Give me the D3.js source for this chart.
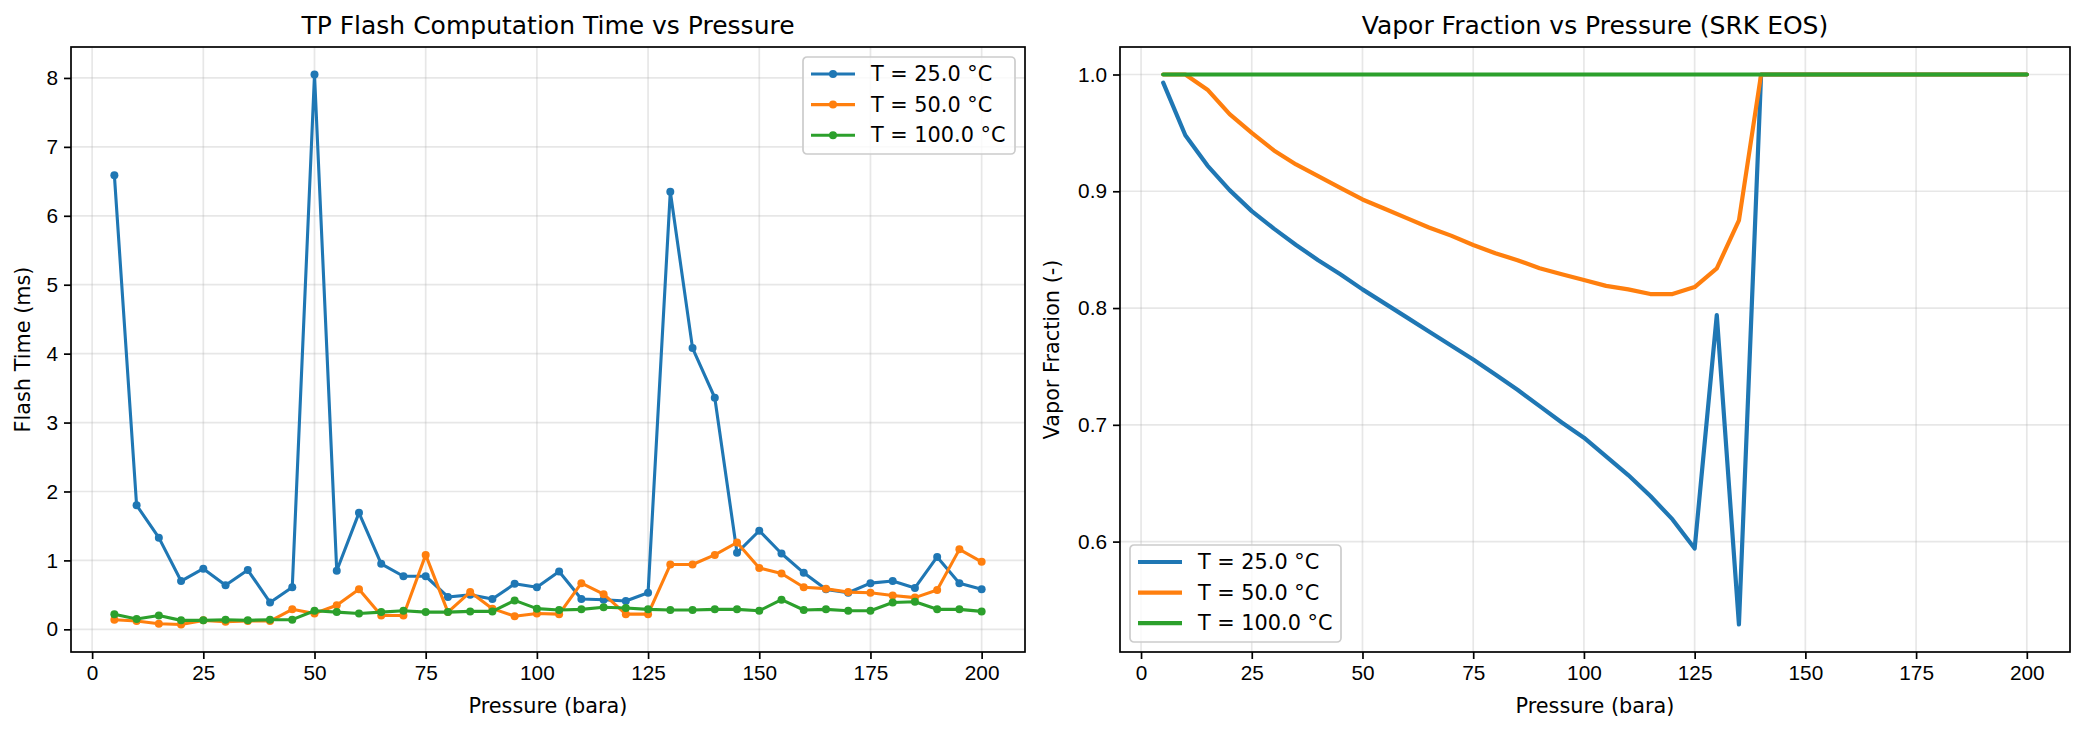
<!DOCTYPE html>
<html>
<head>
<meta charset="utf-8">
<script src="https://cdn.jsdelivr.net/npm/d3@7"></script>
<style>
  body { margin: 0; background: #fff; }
  svg { font-family: "DejaVu Sans", sans-serif; }
</style>
</head>
<body>
<svg id="chart" width="2084" height="731"></svg>
<script>
// ---------------------------------------------------------------- data
const pressure = [5, 10, 15, 20, 25, 30, 35, 40, 45, 50, 55, 60, 65, 70, 75, 80, 85, 90, 95, 100,
                  105, 110, 115, 120, 125, 130, 135, 140, 145, 150, 155, 160, 165, 170, 175, 180, 185, 190, 195, 200];
const seriesNames = ["T = 25.0 °C", "T = 50.0 °C", "T = 100.0 °C"];

// flash time (ms)
const time25 = [6.59, 1.80, 1.33, 0.70, 0.88, 0.64, 0.86, 0.39, 0.61, 8.05, 0.85, 1.69, 0.95, 0.77, 0.77, 0.47, 0.50, 0.44, 0.66, 0.61,
                0.84, 0.44, 0.43, 0.41, 0.53, 6.35, 4.08, 3.36, 1.11, 1.43, 1.10, 0.82, 0.58, 0.53, 0.67, 0.70, 0.60, 1.05, 0.67, 0.58];
const time50 = [0.14, 0.12, 0.08, 0.07, 0.13, 0.11, 0.12, 0.12, 0.29, 0.23, 0.35, 0.58, 0.20, 0.20, 1.08, 0.25, 0.54, 0.30, 0.19, 0.23,
                0.22, 0.67, 0.51, 0.22, 0.22, 0.94, 0.94, 1.08, 1.26, 0.89, 0.81, 0.61, 0.59, 0.54, 0.53, 0.49, 0.46, 0.57, 1.16, 0.98];
const time100 = [0.22, 0.15, 0.20, 0.13, 0.13, 0.14, 0.13, 0.14, 0.14, 0.27, 0.25, 0.23, 0.25, 0.27, 0.25, 0.25, 0.26, 0.26, 0.42, 0.30,
                 0.28, 0.29, 0.32, 0.31, 0.29, 0.28, 0.28, 0.29, 0.29, 0.27, 0.43, 0.28, 0.29, 0.27, 0.27, 0.39, 0.40, 0.29, 0.29, 0.26];

// vapor fraction (-)
const beta25 = [0.993, 0.948, 0.922, 0.901, 0.883, 0.868, 0.854, 0.841, 0.829, 0.816, 0.804, 0.792, 0.780, 0.768, 0.756, 0.743, 0.730, 0.716, 0.702, 0.689,
                0.673, 0.657, 0.639, 0.619, 0.594, 0.794, 0.529, 1.0, 1.0, 1.0, 1.0, 1.0, 1.0, 1.0, 1.0, 1.0, 1.0, 1.0, 1.0, 1.0];
const beta50 = [1.0, 1.0, 0.987, 0.966, 0.950, 0.935, 0.923, 0.913, 0.903, 0.893, 0.885, 0.877, 0.869, 0.862, 0.854, 0.847, 0.841, 0.834, 0.829, 0.824,
                0.819, 0.816, 0.812, 0.812, 0.818, 0.834, 0.875, 1.0, 1.0, 1.0, 1.0, 1.0, 1.0, 1.0, 1.0, 1.0, 1.0, 1.0, 1.0, 1.0];
const beta100 = [1.0, 1.0, 1.0, 1.0, 1.0, 1.0, 1.0, 1.0, 1.0, 1.0, 1.0, 1.0, 1.0, 1.0, 1.0, 1.0, 1.0, 1.0, 1.0, 1.0,
                 1.0, 1.0, 1.0, 1.0, 1.0, 1.0, 1.0, 1.0, 1.0, 1.0, 1.0, 1.0, 1.0, 1.0, 1.0, 1.0, 1.0, 1.0, 1.0, 1.0];

const xTicks = [0, 25, 50, 75, 100, 125, 150, 175, 200];
const timeTicks = [0, 1, 2, 3, 4, 5, 6, 7, 8];
const betaTicks = [0.6, 0.7, 0.8, 0.9, 1.0];

const colors = ["#1f77b4", "#ff7f0e", "#2ca02c"];

const svg = d3.select("#chart");

// matplotlib-like 5% padding
function padded(values) {
  const ext = d3.extent(values);
  const m = (ext[1] - ext[0]) * 0.05;
  return [ext[0] - m, ext[1] + m];
}

function drawPanel(opt) {
  const g = svg.append("g");
  const x = d3.scaleLinear().domain(padded(pressure)).range([opt.left, opt.right]);
  const y = d3.scaleLinear().domain(padded(d3.merge(opt.series))).range([opt.bottom, opt.top]);

  // grid
  g.append("g").selectAll("line").data(xTicks).join("line")
    .attr("x1", d => x(d)).attr("x2", d => x(d))
    .attr("y1", opt.top).attr("y2", opt.bottom)
    .attr("stroke", "#b0b0b0").attr("stroke-opacity", 0.3).attr("stroke-width", 1.7);
  g.append("g").selectAll("line").data(opt.yTicks).join("line")
    .attr("x1", opt.left).attr("x2", opt.right)
    .attr("y1", d => y(d)).attr("y2", d => y(d))
    .attr("stroke", "#b0b0b0").attr("stroke-opacity", 0.3).attr("stroke-width", 1.7);

  // lines
  const line = d3.line().x((d, i) => x(pressure[i])).y(d => y(d));
  const clip = "clip" + opt.id;
  svg.append("clipPath").attr("id", clip).append("rect")
    .attr("x", opt.left).attr("y", opt.top)
    .attr("width", opt.right - opt.left).attr("height", opt.bottom - opt.top);
  const plot = g.append("g").attr("clip-path", `url(#${clip})`);
  opt.series.forEach((s, k) => {
    plot.append("path").datum(s)
      .attr("d", line)
      .attr("fill", "none")
      .attr("stroke", colors[k])
      .attr("stroke-width", opt.lineWidth)
      .attr("stroke-linejoin", "round")
      .attr("stroke-linecap", "round");
    if (opt.markers) {
      plot.append("g").selectAll("circle").data(s).join("circle")
        .attr("cx", (d, i) => x(pressure[i]))
        .attr("cy", d => y(d))
        .attr("r", 4)
        .attr("fill", colors[k]);
    }
  });

  // axes
  const xAxis = d3.axisBottom(x).tickValues(xTicks).tickSize(7).tickPadding(6).tickFormat(d3.format("d"));
  const yAxis = d3.axisLeft(y).tickValues(opt.yTicks).tickSize(7).tickPadding(6).tickFormat(opt.yFormat);
  const gx = g.append("g").attr("transform", `translate(0,${opt.bottom})`).call(xAxis);
  const gy = g.append("g").attr("transform", `translate(${opt.left},0)`).call(yAxis);
  [gx, gy].forEach(a => {
    a.select(".domain").remove();
    a.selectAll(".tick line").attr("stroke", "#000").attr("stroke-width", 1.7);
    a.selectAll(".tick text").attr("fill", "#000").style("font-size", "20.8px");
  });

  // frame
  g.append("rect")
    .attr("x", opt.left).attr("y", opt.top)
    .attr("width", opt.right - opt.left).attr("height", opt.bottom - opt.top)
    .attr("fill", "none").attr("stroke", "#000").attr("stroke-width", 1.7);

  // labels
  g.append("text")
    .attr("x", (opt.left + opt.right) / 2).attr("y", opt.top - 13)
    .attr("text-anchor", "middle").style("font-size", "25px")
    .text(opt.title);
  g.append("text")
    .attr("x", (opt.left + opt.right) / 2).attr("y", 713)
    .attr("text-anchor", "middle").style("font-size", "20.8px")
    .text("Pressure (bara)");
  g.append("text")
    .attr("transform", `translate(${opt.yLabelX},${(opt.top + opt.bottom) / 2}) rotate(-90)`)
    .attr("text-anchor", "middle").attr("dy", "0.35em").style("font-size", "20.8px")
    .text(opt.yLabel);

  // legend
  const lg = g.append("g").attr("transform", `translate(${opt.legend.x},${opt.legend.y})`);
  lg.append("rect")
    .attr("width", opt.legend.w).attr("height", 97).attr("rx", 4)
    .attr("fill", "#fff").attr("fill-opacity", 0.8)
    .attr("stroke", "#cccccc").attr("stroke-width", 1.7);
  seriesNames.forEach((name, k) => {
    const yy = 17 + k * 30.6;
    lg.append("line").attr("x1", 8).attr("x2", 52).attr("y1", yy).attr("y2", yy)
      .attr("stroke", colors[k]).attr("stroke-width", opt.lineWidth);
    if (opt.markers) {
      lg.append("circle").attr("cx", 30).attr("cy", yy).attr("r", 4).attr("fill", colors[k]);
    }
    lg.append("text").attr("x", 68).attr("y", yy).attr("dy", "0.35em")
      .style("font-size", "20.8px").text(name);
  });
}

drawPanel({
  id: "a", left: 71, right: 1025, top: 47, bottom: 652,
  series: [time25, time50, time100], markers: true, lineWidth: 3.1,
  yTicks: timeTicks, yFormat: d3.format("d"),
  title: "TP Flash Computation Time vs Pressure",
  yLabel: "Flash Time (ms)", yLabelX: 23,
  legend: { x: 803, y: 57, w: 212 }
});

drawPanel({
  id: "b", left: 1120, right: 2070, top: 47, bottom: 652,
  series: [beta25, beta50, beta100], markers: false, lineWidth: 4.2,
  yTicks: betaTicks, yFormat: d3.format(".1f"),
  title: "Vapor Fraction vs Pressure (SRK EOS)",
  yLabel: "Vapor Fraction (-)", yLabelX: 1052,
  legend: { x: 1130, y: 545, w: 211 }
});
</script>
</body>
</html>
